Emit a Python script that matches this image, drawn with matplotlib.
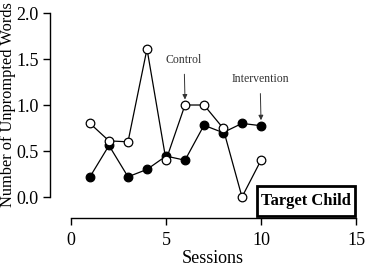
import matplotlib
matplotlib.use("Agg")
import matplotlib.pyplot as plt
from matplotlib.patches import Rectangle

sessions = [1, 2, 3, 4, 5, 6, 7, 8, 9, 10]
control = [0.80, 0.61, 0.60, 1.61, 0.40, 1.00, 1.00, 0.75, 0.00, 0.40]
intervention = [0.22, 0.56, 0.22, 0.30, 0.445, 0.40, 0.78, 0.70, 0.80, 0.775]
xticks = [0, 5, 10, 15]
yticks = [0.0, 0.5, 1.0, 1.5, 2.0]
ytick_labels = ["0.0", "0.5", "1.0", "1.5", "2.0"]

plt.rcParams['font.family'] = ['Liberation Serif', 'DejaVu Serif']

W, H = 368, 267
fig = plt.figure(figsize=(W/100, H/100), dpi=100)
ax = fig.add_axes([50/W, 1-218/H, 306/W, 205/H])

ax.plot(sessions, intervention, color='black', lw=0.9, marker='o', ms=6.2,
        mfc='black', mec='black', mew=0.9, clip_on=False, zorder=3)
ax.plot(sessions, control, color='black', lw=0.9, marker='o', ms=6.2,
        mfc='white', mec='black', mew=0.9, clip_on=False, zorder=4)

ax.set_xlim(-1.105, 15)
ax.set_ylim(-0.228, 2.0)
for s in ['top', 'right']:
    ax.spines[s].set_visible(False)
ax.spines['left'].set_bounds(0, 2)
ax.spines['bottom'].set_bounds(0, 15)
ax.spines['left'].set_linewidth(1.0)
ax.spines['bottom'].set_linewidth(1.0)
ax.set_xticks(xticks)
ax.set_yticks(yticks)
ax.set_yticklabels(ytick_labels)
ax.tick_params(axis='both', direction='out', length=5, width=1.0, labelsize=13, colors='black', pad=3)
ax.tick_params(axis='x', pad=5)

ax.set_xlabel('Sessions', fontsize=13)
ax.xaxis.set_label_coords((212.5 - 50) / 306, -0.155)
ax.set_ylabel('Number of Unprompted Words', fontsize=11.8)
ax.yaxis.set_label_coords(-34 / 306, (218 - 105) / 205)

ax.annotate('Control', xy=(sessions[5], control[5] + 0.06), xytext=(sessions[5] - 0.05, 1.49),
            ha='center', va='center', fontsize=8.5, color='#333333',
            arrowprops=dict(arrowstyle='-|>', color='#333333', lw=0.7, mutation_scale=7,
                            shrinkA=4, shrinkB=0))
ax.annotate('Intervention', xy=(sessions[9], intervention[9] + 0.06), xytext=(sessions[9] - 0.05, 1.28),
            ha='center', va='center', fontsize=8.5, color='#333333',
            arrowprops=dict(arrowstyle='-|>', color='#333333', lw=0.7, mutation_scale=7,
                            shrinkA=4, shrinkB=0))

ax.add_patch(Rectangle((9.79, -0.207), 14.95 - 9.79, 0.12 + 0.207, fc='white', ec='black',
                       lw=2.0, clip_on=False, zorder=5))
ax.text(12.37, -0.045, 'Target Child', ha='center', va='center', fontsize=12, fontweight='bold',
        zorder=6)

fig.savefig('out.png', dpi=100)
